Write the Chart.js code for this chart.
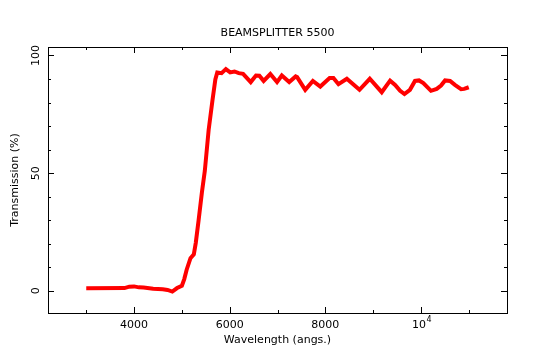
<!DOCTYPE html>
<html>
<head>
<meta charset="utf-8">
<script src="https://cdn.jsdelivr.net/npm/chart.js@4.4.0/dist/chart.umd.min.js"></script>
<style>
  html, body { margin: 0; padding: 0; background: #fff; }
  #grafico { display: block; }
</style>
</head>
<body>
<canvas id="grafico" width="556" height="361"></canvas>
<script>
// Datos (longitud de onda en angstroms, transmision en %)
const longitudes = [3000, 3800, 3900, 4000, 4100, 4200, 4400, 4600, 4700, 4800, 4900, 5000, 5050, 5100, 5180, 5250, 5290, 5350, 5420, 5480,
  5560, 5640, 5700, 5740, 5830, 5920, 6010, 6100, 6190, 6280, 6440, 6550, 6620, 6710, 6850, 6990, 7090, 7245, 7380, 7410,
  7580, 7740, 7895, 8090, 8170, 8275, 8450, 8715, 8930, 9180, 9355, 9460, 9565, 9655, 9770, 9875, 9960, 10050, 10210, 10330,
  10420, 10505, 10610, 10710, 10840, 10905, 11000];
const transmision = [1.1, 1.2, 1.8, 1.9, 1.5, 1.4, 0.9, 0.7, 0.4, -0.3, 1.2, 2.2, 5.0, 9.0, 13.9, 15.5, 20.3, 30, 42, 51,
  68.4, 81, 89.8, 92.8, 92.5, 94.2, 92.8, 93.2, 92.5, 92.2, 88.7, 91.5, 91.4, 89.2, 92.1, 88.7, 91.5, 88.7, 91.1, 90.8,
  85.4, 89.2, 86.8, 90.4, 90.4, 87.8, 90.1, 85.4, 90.1, 84.4, 89.3, 87.5, 85, 83.6, 85.4, 89.2, 89.4, 88.3, 85, 85.8,
  87.2, 89.4, 89.2, 87.5, 85.7, 85.8, 86.5];

// Marcas de los ejes
const ticksX = [3000, 4000, 5000, 6000, 7000, 8000, 9000, 10000, 11000];
const etiquetasX = [4000, 6000, 8000, 10000];
const ticksY = [0, 10, 20, 30, 40, 50, 60, 70, 80, 90, 100];
const etiquetasY = [0, 50, 100];

const titulo = 'BEAMSPLITTER 5500';
const tituloX = 'Wavelength (angs.)';
const tituloY = 'Transmission (%)';

const fuente = '"DejaVu Sans", sans-serif';

// Dibuja marco, marcas hacia dentro y textos usando las escalas de Chart.js
const ejesPlugin = {
  id: 'ejes',
  afterDraw(chart) {
    const ctx = chart.ctx;
    const a = chart.chartArea;
    const sx = chart.scales.x;
    const sy = chart.scales.y;
    ctx.save();
    ctx.strokeStyle = '#000';
    ctx.fillStyle = '#000';
    ctx.lineWidth = 1;
    ctx.strokeRect(a.left + 0.5, a.top + 0.5, a.right - a.left, a.bottom - a.top);

    ctx.beginPath();
    ticksX.forEach(v => {
      const px = Math.round(sx.getPixelForValue(v)) + 0.5;
      const largo = etiquetasX.includes(v) ? 6 : 3;
      ctx.moveTo(px, a.bottom);
      ctx.lineTo(px, a.bottom - largo);
      ctx.moveTo(px, a.top);
      ctx.lineTo(px, a.top + largo);
    });
    ticksY.forEach(v => {
      const py = Math.round(sy.getPixelForValue(v)) + 0.5;
      const largo = etiquetasY.includes(v) ? 6 : 3;
      ctx.moveTo(a.left, py);
      ctx.lineTo(a.left + largo, py);
      ctx.moveTo(a.right, py);
      ctx.lineTo(a.right - largo, py);
    });
    ctx.stroke();

    ctx.font = '11px ' + fuente;
    ctx.textBaseline = 'middle';
    ctx.textAlign = 'center';
    etiquetasX.forEach(v => {
      const px = sx.getPixelForValue(v);
      if (v === 10000) {
        ctx.fillText('10', px - 2, 325);
        ctx.font = '8px ' + fuente;
        ctx.fillText('4', px + 8, 320);
        ctx.font = '11px ' + fuente;
      } else {
        ctx.fillText(String(v), px, 325);
      }
    });
    etiquetasY.forEach(v => {
      const py = sy.getPixelForValue(v);
      ctx.save();
      ctx.translate(36.5, py);
      ctx.rotate(-Math.PI / 2);
      ctx.fillText(String(v), 0, 0);
      ctx.restore();
    });

    ctx.fillText(titulo, (a.left + a.right) / 2, 33);
    ctx.fillText(tituloX, (a.left + a.right) / 2, 340);
    ctx.save();
    ctx.translate(15.5, (a.top + a.bottom) / 2);
    ctx.rotate(-Math.PI / 2);
    ctx.fillText(tituloY, 0, 0);
    ctx.restore();
    ctx.restore();
  }
};

const puntos = longitudes.map((l, i) => ({ x: l, y: transmision[i] }));

const ctx = document.getElementById('grafico');
new Chart(ctx, {
  type: 'line',
  data: {
    datasets: [{
      label: 'Transmission',
      data: puntos,
      borderColor: '#ff0000',
      borderWidth: 4,
      pointRadius: 0,
      tension: 0,
      fill: false
    }]
  },
  options: {
    responsive: false,
    animation: false,
    devicePixelRatio: 1,
    layout: {
      padding: { left: 48, right: 49, top: 47, bottom: 48 }
    },
    plugins: {
      legend: { display: false },
      title: { display: false },
      tooltip: { enabled: false }
    },
    scales: {
      x: { type: 'linear', min: 2200, max: 11800, display: false },
      y: { type: 'linear', min: -9.4, max: 103.6, display: false }
    }
  },
  plugins: [ejesPlugin]
});
</script>
</body>
</html>
